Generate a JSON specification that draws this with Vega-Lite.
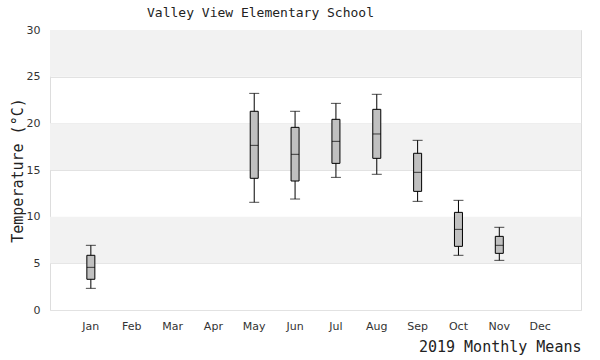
{
  "$schema": "https://vega.github.io/schema/vega-lite/v6.json",
  "autosize": "none",
  "width": 531,
  "height": 280,
  "padding": {"left": 50, "top": 30, "right": 19, "bottom": 50},
  "background": "white",
  "title": {"text": "Valley View Elementary School", "font": "DejaVu Sans Mono", "fontSize": 13, "fontWeight": "normal", "color": "#222", "offset": 4, "dx": -55},
  "config": {
    "view": {"stroke": "#dddddd", "strokeWidth": 1},
    "axis": {"labelFont": "DejaVu Sans", "labelFontSize": 11, "labelColor": "#333", "titleFont": "DejaVu Sans Mono", "titleFontSize": 15, "titleFontWeight": "normal", "titleColor": "#222", "ticks": false, "domain": false}
  },
  "datasets": {
    "bands": [{"lo": 5, "hi": 10}, {"lo": 15, "hi": 20}, {"lo": 25, "hi": 30}],
    "stats": [
      {"month": "Jan", "min": 2.32, "q1": 3.29, "median": 4.57, "q3": 5.86, "max": 6.93},
      {"month": "May", "min": 11.54, "q1": 14.11, "median": 17.64, "q3": 21.29, "max": 23.21},
      {"month": "Jun", "min": 11.89, "q1": 13.82, "median": 16.68, "q3": 19.57, "max": 21.29},
      {"month": "Jul", "min": 14.21, "q1": 15.71, "median": 18.07, "q3": 20.43, "max": 22.14},
      {"month": "Aug", "min": 14.54, "q1": 16.25, "median": 18.86, "q3": 21.5, "max": 23.11},
      {"month": "Sep", "min": 11.64, "q1": 12.71, "median": 14.75, "q3": 16.79, "max": 18.18},
      {"month": "Oct", "min": 5.86, "q1": 6.82, "median": 8.64, "q3": 10.46, "max": 11.75},
      {"month": "Nov", "min": 5.32, "q1": 6.07, "median": 6.93, "q3": 7.89, "max": 8.86}
    ]
  },
  "layer": [
    {
      "data": {"name": "bands"},
      "mark": {"type": "rect", "fill": "#f2f2f2"},
      "encoding": {
        "y": {"field": "lo", "type": "quantitative", "scale": {"domain": [0, 30], "nice": false},
          "axis": {"title": "Temperature (°C)", "values": [0, 5, 10, 15, 20, 25, 30], "grid": true, "gridColor": "#e2e2e2", "labelPadding": 10, "titlePadding": 1}},
        "y2": {"field": "hi"}
      }
    },
    {
      "data": {"name": "stats"},
      "layer": [
        {
          "mark": {"type": "rule", "color": "black", "strokeWidth": 1},
          "encoding": {"y": {"field": "min", "type": "quantitative"}, "y2": {"field": "max"}}
        },
        {
          "mark": {"type": "bar", "fill": "#c0c0c0", "stroke": "black", "strokeWidth": 1, "size": 8},
          "encoding": {"y": {"field": "q1", "type": "quantitative"}, "y2": {"field": "q3"}}
        },
        {
          "mark": {"type": "tick", "color": "black", "size": 8, "thickness": 1},
          "encoding": {"y": {"field": "median", "type": "quantitative"}}
        },
        {
          "mark": {"type": "tick", "color": "black", "size": 10, "thickness": 1},
          "encoding": {"y": {"field": "min", "type": "quantitative"}}
        },
        {
          "mark": {"type": "tick", "color": "black", "size": 10, "thickness": 1},
          "encoding": {"y": {"field": "max", "type": "quantitative"}}
        }
      ],
      "encoding": {
        "x": {"field": "month", "type": "nominal",
          "scale": {"domain": ["Jan", "Feb", "Mar", "Apr", "May", "Jun", "Jul", "Aug", "Sep", "Oct", "Nov", "Dec"], "paddingOuter": 0.5, "paddingInner": 0},
          "axis": {"title": "2019 Monthly Means", "labelAngle": 0, "labelPadding": 10, "titleAnchor": "end", "titlePadding": 8, "grid": false}}
      }
    }
  ]
}
